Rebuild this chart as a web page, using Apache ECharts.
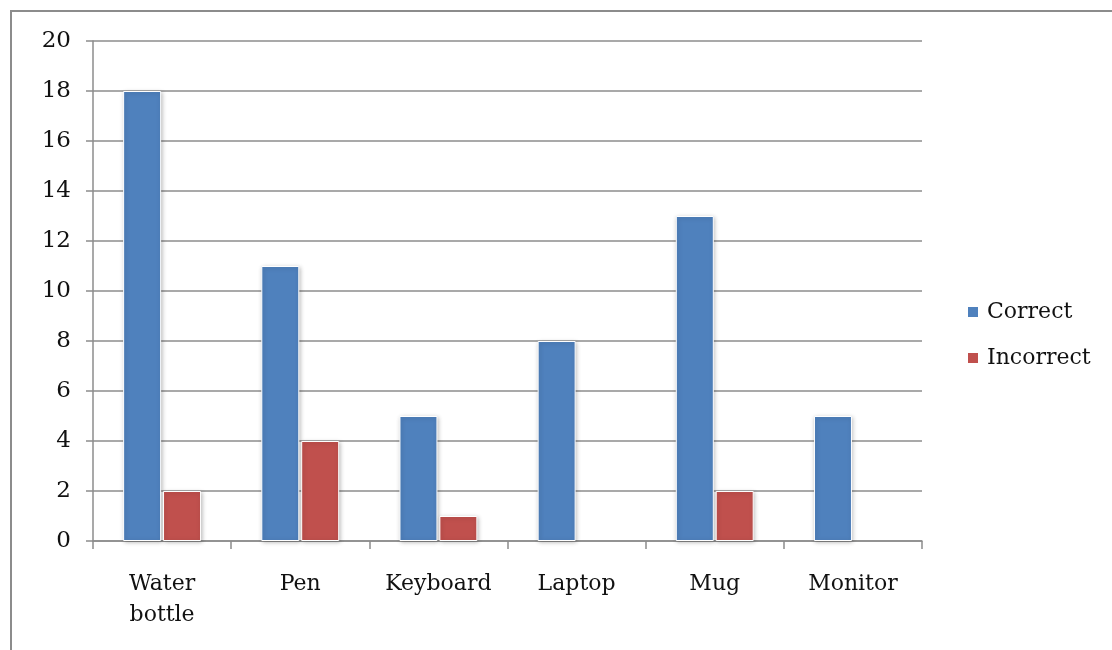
<!DOCTYPE html>
<html>
<head>
<meta charset="utf-8">
<script src="https://cdn.jsdelivr.net/npm/echarts@6/dist/echarts.min.js"></script>
<style>
  html, body { margin: 0; padding: 0; background: #fff; }
  #chart { width: 1112px; height: 650px; }
</style>
</head>
<body>
<div id="chart"></div>
<script>
// items people identified
const categories = ['Water\nbottle', 'Pen', 'Keyboard', 'Laptop', 'Mug', 'Monitor'];
const correct = [18, 11, 5, 8, 13, 5];
const incorrect = [2, 4, 1, 0, 2, 0];
const yTicks = { min: 0, max: 20, interval: 2 };

const font = 'DejaVu Serif';
const lineColor = '#8c8c8c';

const chart = echarts.init(document.getElementById('chart'));

const barStyle = (color) => ({
  color,
  borderColor: '#fff',
  borderWidth: 1,
  shadowColor: 'rgba(0,0,0,0.25)',
  shadowBlur: 4,
  shadowOffsetX: 1,
  shadowOffsetY: 1,
});

// empty bars get no shadow, otherwise a grey smudge shows on the axis
const toBars = (values) => values.map(v => (v === 0
  ? { value: v, itemStyle: { shadowBlur: 0, shadowOffsetX: 0, shadowOffsetY: 0, borderWidth: 0 } }
  : v));

chart.setOption({
  animation: false,
  backgroundColor: '#fff',
  graphic: [{
    type: 'rect',
    shape: { x: 11, y: 11, width: 1300, height: 800 },
    style: { fill: 'none', stroke: lineColor, lineWidth: 2 },
    silent: true,
  }],
  grid: { left: 93, right: 190, top: 41, bottom: 109 },
  legend: {
    orient: 'vertical',
    left: 961,
    top: 296,
    itemWidth: 12,
    itemHeight: 12,
    itemGap: 24,
    icon: 'rect',
    textStyle: { fontFamily: font, fontSize: 22, color: '#111', padding: [0, 0, 0, 3] },
    data: ['Correct', 'Incorrect'],
  },
  xAxis: {
    type: 'category',
    data: categories,
    axisLine: { lineStyle: { color: lineColor, width: 1.5 } },
    axisTick: { show: true, length: 8, lineStyle: { color: lineColor, width: 1.5 } },
    axisLabel: {
      fontFamily: font,
      fontSize: 22,
      color: '#111',
      margin: 28,
      lineHeight: 31,
      interval: 0,
    },
  },
  yAxis: {
    type: 'value',
    min: yTicks.min,
    max: yTicks.max,
    interval: yTicks.interval,
    axisLine: { show: true, lineStyle: { color: lineColor, width: 1.5 } },
    axisTick: { show: true, length: 7, lineStyle: { color: lineColor, width: 1.5 } },
    splitLine: { lineStyle: { color: lineColor, width: 1.5 } },
    axisLabel: { fontFamily: font, fontSize: 23, color: '#111', margin: 22 },
  },
  series: [
    {
      name: 'Correct',
      type: 'bar',
      data: toBars(correct),
      barWidth: 38,
      barGap: '5%',
      itemStyle: barStyle('#4f81bd'),
    },
    {
      name: 'Incorrect',
      type: 'bar',
      data: toBars(incorrect),
      barWidth: 38,
      itemStyle: barStyle('#c0504d'),
    },
  ],
});
</script>
</body>
</html>
